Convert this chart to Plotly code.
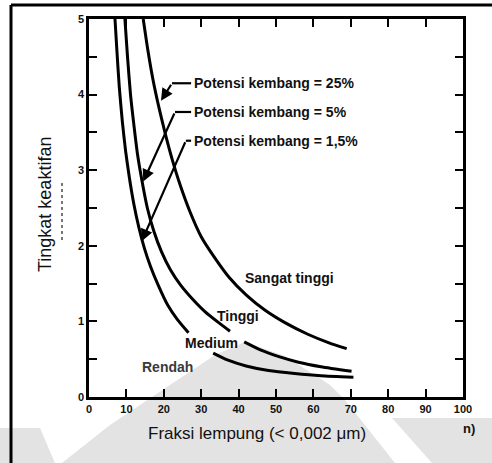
import plotly.graph_objects as go

# Boundary curves (clay fraction %, activity). None splits a curve where a label sits.
curve_15_x = [6.95, 7.5, 8.1, 8.9, 9.8, 10.8, 12.0, 13.3, 14.8, 16.5, 18.5, 21.0, 23.7, 26.6, None,
              33.2, 37.0, 42.0, 48.0, 55.0, 62.0, 70.7]
curve_15_y = [5.0, 4.55, 4.1, 3.65, 3.25, 2.9, 2.55, 2.25, 1.97, 1.72, 1.48, 1.22, 1.02, 0.85, None,
              0.58, 0.49, 0.41, 0.35, 0.31, 0.28, 0.26]

curve_5_x = [9.6, 10.3, 11.1, 12.0, 13.0, 14.2, 15.6, 17.3, 19.4, 21.8, 24.5, 27.6, 31.0, 34.5, 37.7, None,
             41.5, 46.0, 51.0, 56.0, 62.0, 70.2]
curve_5_y = [5.0, 4.5, 4.0, 3.6, 3.2, 2.85, 2.5, 2.2, 1.92, 1.68, 1.48, 1.3, 1.13, 0.99, 0.87, None,
             0.73, 0.62, 0.53, 0.46, 0.40, 0.34]

curve_25_x = [14.5, 15.7, 17.1, 18.6, 20.3, 22.2, 24.4, 27.0, 30.0, 33.5, 37.5, 42.0, 47.0,
              52.5, 58.5, 64.0, 68.9]
curve_25_y = [5.0, 4.6, 4.2, 3.85, 3.5, 3.15, 2.8, 2.45, 2.12, 1.85, 1.58, 1.35, 1.15,
              0.98, 0.83, 0.72, 0.64]

x_ticks = list(range(0, 101, 10))
y_ticks = [0, 0.5, 1, 1.5, 2, 2.5, 3, 3.5, 4, 4.5, 5]
y_tick_text = ["0", "", "1", "", "2", "", "3", "", "4", "", "5"]

zone_labels = ["Sangat tinggi", "Tinggi", "Medium", "Rendah"]
zone_x = [41.2, 33.7, 25.1, 13.6]
zone_y = [1.57, 1.07, 0.71, 0.40]
zone_colors = ["#111111", "#111111", "#111111", "#3a3a3a"]

swell_labels = ["Potensi kembang = 25%", "Potensi kembang = 5%", "Potensi kembang = 1,5%"]
swell_text_y = [4.15, 3.77, 3.39]
swell_tip_x = [19.25, 14.5, 14.1]
swell_tip_y = [3.92, 2.85, 2.06]
swell_elbow_x = [22.2, 23.0, 25.9]
swell_text_x = 27.6

W, H = 492, 463
L, R, T, B = 89, 29, 19, 66
PW, PH = W - L - R, H - T - B


def paper(xp, yp):
    return (xp - L) / PW, (H - B - yp) / PH


def path(points):
    pts = [paper(a, b) for a, b in points]
    return "M " + " L ".join(f"{a:.4f},{b:.4f}" for a, b in pts) + " Z"


fig = go.Figure()

line_style = dict(color="black", width=3)
for xs, ys in [(curve_15_x, curve_15_y), (curve_5_x, curve_5_y), (curve_25_x, curve_25_y)]:
    fig.add_trace(go.Scatter(x=xs, y=ys, mode="lines",
                             line=dict(shape="spline", smoothing=0.6, **line_style),
                             connectgaps=False, hoverinfo="skip", showlegend=False))

shapes = []
# faint background logo
grey = "#e3e3e3"
for poly in [
    [(0, 428), (40, 428), (55, 463), (0, 463)],
    [(245, 342), (285, 356), (330, 385), (345, 400), (395, 463), (62, 463), (110, 425), (170, 385), (215, 355)],
    [(392, 418), (492, 418), (492, 463), (432, 463)],
]:
    shapes.append(dict(type="path", path=path(poly), xref="paper", yref="paper",
                       fillcolor=grey, line=dict(width=0), layer="below"))

# outer frame (top and left edges)
x0, y0 = paper(11, 5)
x1, _ = paper(W + 2, 5)
_, y1 = paper(11, H + 2)
shapes.append(dict(type="line", xref="paper", yref="paper", x0=x0, y0=y0, x1=x1, y1=y0,
                   line=dict(color="black", width=3)))
shapes.append(dict(type="line", xref="paper", yref="paper", x0=x0, y0=y0, x1=x0, y1=y1,
                   line=dict(color="black", width=3)))
# faint stroke beside the vertical title
mx, my0 = paper(62, 183)
_, my1 = paper(62, 241)
shapes.append(dict(type="line", xref="paper", yref="paper", x0=mx, y0=my0, x1=mx, y1=my1,
                   line=dict(color="#777777", width=2, dash="dot")))

# leader lines from the swell-potential labels
for ex, ty in zip(swell_elbow_x, swell_text_y):
    shapes.append(dict(type="line", xref="x", yref="y", x0=ex, y0=ty, x1=swell_text_x - 0.3, y1=ty,
                       line=dict(color="black", width=2.2)))

annotations = []
bold = dict(family="Liberation Sans, Arial, sans-serif", size=14, color="#111111", weight="bold")
for lab, ty in zip(swell_labels, swell_text_y):
    annotations.append(dict(x=swell_text_x, y=ty, xref="x", yref="y", text=lab, showarrow=False,
                            xanchor="left", yanchor="middle", font=bold))
for tx, ty, ex, ey in zip(swell_tip_x, swell_tip_y, swell_elbow_x, swell_text_y):
    annotations.append(dict(x=tx, y=ty, xref="x", yref="y", ax=ex, ay=ey,
                            axref="x", ayref="y", text="", showarrow=True, arrowhead=2, arrowsize=1.1,
                            arrowwidth=2.2, arrowcolor="black"))
for lab, zx, zy, zc in zip(zone_labels, zone_x, zone_y, zone_colors):
    annotations.append(dict(x=zx, y=zy, xref="x", yref="y", text=lab, showarrow=False,
                            xanchor="left", yanchor="middle", font=dict(bold, color=zc)))

# axis titles
tx, ty = paper(257, 445)
annotations.append(dict(x=tx, y=ty, xref="paper", yref="paper", text="Fraksi lempung (< 0,002 μm)",
                        showarrow=False, font=dict(family="Liberation Sans, Arial, sans-serif", size=17,
                                                   color="#111111")))
tx, ty = paper(33, 205)
annotations.append(dict(x=tx, y=ty, xref="paper", yref="paper", text="Tingkat keaktifan", textangle=-90,
                        showarrow=False, font=dict(family="Liberation Sans, Arial, sans-serif", size=18,
                                                   color="#111111")))
tx, ty = paper(477, 438)
annotations.append(dict(x=tx, y=ty, xref="paper", yref="paper", text="n)", showarrow=False,
                        font=dict(family="Liberation Sans, Arial, sans-serif", size=13, color="#111111",
                                  weight="bold")))

tick_font = dict(family="Liberation Sans, Arial, sans-serif", size=11, color="#111111", weight="bold")
axis_common = dict(showline=True, linecolor="black", linewidth=2.5, mirror="ticks", ticks="inside",
                   ticklen=8, tickwidth=2, tickcolor="black", showgrid=False, zeroline=False,
                   tickfont=tick_font)

fig.update_layout(
    width=W, height=H, margin=dict(l=L, r=R, t=T, b=B),
    paper_bgcolor="white", plot_bgcolor="rgba(0,0,0,0)",
    xaxis=dict(range=[0, 100], tickvals=x_ticks, **axis_common),
    yaxis=dict(range=[0, 5], tickvals=y_ticks, ticktext=y_tick_text, **axis_common),
    shapes=shapes, annotations=annotations, showlegend=False,
)

fig.write_html("out.html")
